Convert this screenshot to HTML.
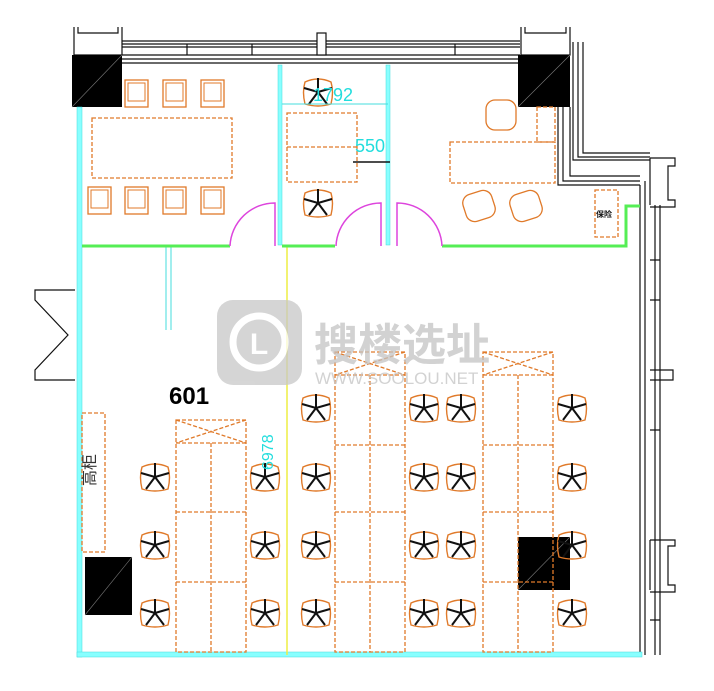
<!DOCTYPE html>
<html><head><meta charset="utf-8"><style>body{margin:0;background:#fff}svg{display:block}</style></head>
<body>
<svg width="714" height="691" viewBox="0 0 714 691" xmlns="http://www.w3.org/2000/svg" font-family="Liberation Sans, Noto Sans CJK SC, sans-serif">
<defs>
<g id="ch">
<path d="M-13,-10 Q0,-16 13,-10 Q16,0 13,12 Q0,16 -13,12 Q-16,0 -13,-10Z" fill="none" stroke="#e07a2a" stroke-width="1.4"/>
<g stroke="#111" stroke-width="2"><line x1="0" y1="0" x2="0" y2="-14"/><line x1="0" y1="0" x2="14" y2="-4"/><line x1="0" y1="0" x2="9" y2="12"/><line x1="0" y1="0" x2="-9" y2="12"/><line x1="0" y1="0" x2="-14" y2="-4"/></g>
</g>
<g id="arm"><rect x="0" y="0" width="23" height="27" fill="none" stroke="#e07a2a" stroke-width="1.3"/><rect x="3" y="3" width="17" height="18" fill="none" stroke="#e07a2a" stroke-width="1"/></g>
</defs>
<g fill="none" stroke="#111" stroke-width="1.2">
<path d="M122 41H520M122 44H520M122 47H520M122 55H520M122 59H520M122 63H520"/>
<path d="M187 44V55M252 44V55M455 44V55"/>
<rect x="317" y="33" width="9" height="22" fill="#fff"/>
<path d="M74 27V55H122V27M78 27V33H118V27"/>
<path d="M521 27V55H570V27M525 27V33H566V27"/>
<path d="M573 42V160H650M578 42V157H650M583 42V153H650"/>
<path d="M558 107V185H640M563 107V181H640M570 107V176H640"/>
<path d="M640 185V655M645 181V655M655 205V655M660 205V655"/>
<path d="M650 158V205M650 158H675V166H668V200H675V207H650"/>
<path d="M650 540V590M650 540H675V546H668V585H675V592H650"/>
<path d="M650 370H673V380H650"/>
<path d="M650 260H660M650 300H660M650 430H660M650 620H660"/>
<path d="M75 290H35V300L68 335L35 370V380H75"/>
</g>
<rect x="72" y="55" width="50" height="52" fill="#000"/>
<rect x="518" y="55" width="52" height="52" fill="#000"/>
<rect x="85" y="557" width="47" height="58" fill="#000"/>
<rect x="518" y="537" width="52" height="53" fill="#000"/>
<g stroke="#777" stroke-width="0.6"><line x1="72" y1="107" x2="122" y2="55"/><line x1="518" y1="107" x2="570" y2="55"/><line x1="85" y1="615" x2="132" y2="557"/><line x1="518" y1="590" x2="570" y2="537"/></g>
<g fill="#8ff" stroke="#4dd" stroke-width="0.5">
<rect x="77" y="107" width="5" height="550"/>
<rect x="278" y="65" width="4" height="180"/>
<rect x="386" y="65" width="4" height="180"/>
<rect x="77" y="652" width="565" height="5"/>
</g>
<path d="M166 245V330M171 245V330" stroke="#4dd" stroke-width="1"/>
<line x1="287" y1="245" x2="287" y2="655" stroke="#ee4" stroke-width="1.5"/>
<g stroke="#5e5" stroke-width="3" fill="none">
<path d="M82 246H230M282 246H335M442 246H626V206H640"/>
</g>
<g stroke="#d4d" stroke-width="1.5" fill="none">
<path d="M230 246A45 45 0 0 1 275 203V246"/>
<path d="M336 246A45 45 0 0 1 381 203V246"/>
<path d="M442 246A45 45 0 0 0 397 203V246"/>
</g>
<use href="#arm" x="125" y="80"/><use href="#arm" x="163" y="80"/><use href="#arm" x="201" y="80"/>
<use href="#arm" x="88" y="187"/><use href="#arm" x="125" y="187"/><use href="#arm" x="163" y="187"/><use href="#arm" x="201" y="187"/>
<g fill="none" stroke="#e07a2a" stroke-width="1.3" stroke-dasharray="4 2">
<rect x="92" y="118" width="140" height="60"/>
<rect x="287" y="113" width="70" height="69"/><line x1="287" y1="147" x2="357" y2="147"/>
<rect x="450" y="142" width="105" height="41"/><rect x="537" y="107" width="18" height="35"/>
<rect x="595" y="190" width="23" height="47"/>
<rect x="82" y="413" width="23" height="139"/>
<rect x="176" y="420" width="70" height="232"/><path d="M176 443H246M176 420L246 443M246 420L176 443M211 443V652M176 512H246M176 582H246"/>
<rect x="335" y="352" width="70" height="300"/><path d="M335 375H405M335 352L405 375M405 352L335 375M370 375V652M335 445H405M335 512H405M335 582H405"/>
<rect x="483" y="352" width="70" height="300"/><path d="M483 375H553M483 352L553 375M553 352L483 375M518 375V652M483 445H553M483 512H553M483 582H553"/>
</g>
<g fill="none" stroke="#e07a2a" stroke-width="1.3">
<rect x="486" y="100" width="30" height="30" rx="9"/>
<rect x="464" y="192" width="30" height="28" rx="9" transform="rotate(-18 479 206)"/>
<rect x="511" y="192" width="30" height="28" rx="9" transform="rotate(-18 526 206)"/>
</g>
<text x="596" y="217" font-size="8" font-weight="bold" fill="#111">保险</text>
<use href="#ch" x="318" y="92"/><use href="#ch" x="318" y="203"/>
<line x1="282" y1="104" x2="388" y2="104" stroke="#4dd" stroke-width="1"/>
<text x="313" y="101" font-size="18" fill="#2dd">1792</text>
<text x="355" y="152" font-size="18" fill="#2dd">550</text>
<line x1="353" y1="162" x2="390" y2="162" stroke="#111" stroke-width="1.5"/>
<g>
<use href="#ch" x="155" y="477"/><use href="#ch" x="155" y="545"/><use href="#ch" x="155" y="613"/>
<use href="#ch" x="265" y="477"/><use href="#ch" x="265" y="545"/><use href="#ch" x="265" y="613"/>
<use href="#ch" x="316" y="408"/><use href="#ch" x="316" y="477"/><use href="#ch" x="316" y="545"/><use href="#ch" x="316" y="613"/>
<use href="#ch" x="424" y="408"/><use href="#ch" x="424" y="477"/><use href="#ch" x="424" y="545"/><use href="#ch" x="424" y="613"/>
<use href="#ch" x="461" y="408"/><use href="#ch" x="461" y="477"/><use href="#ch" x="461" y="545"/><use href="#ch" x="461" y="613"/>
<use href="#ch" x="572" y="408"/><use href="#ch" x="572" y="477"/><use href="#ch" x="572" y="545"/><use href="#ch" x="572" y="613"/>
</g>
<text x="273" y="470" font-size="16" fill="#2dd" transform="rotate(-90 273 470)">6978</text>
<text x="95" y="470" font-size="16" fill="#333" transform="rotate(-90 95 470)" text-anchor="middle">高柜</text>
<text x="169" y="404" font-size="24" font-weight="bold" fill="#000">601</text>
<g opacity="0.75">
<rect x="217" y="300" width="85" height="85" rx="16" fill="#c8c8c8"/>
<circle cx="259" cy="342" r="26" fill="none" stroke="#fff" stroke-width="7"/>
<text x="259" y="354" font-size="30" font-weight="bold" fill="#fff" text-anchor="middle">L</text>
<text x="314" y="360" font-size="44" font-weight="bold" fill="#c4c4c4">搜楼选址</text>
<text x="315" y="384" font-size="17" fill="#c4c4c4">WWW.SOOLOU.NET</text>
</g>
</svg>
</body></html>
